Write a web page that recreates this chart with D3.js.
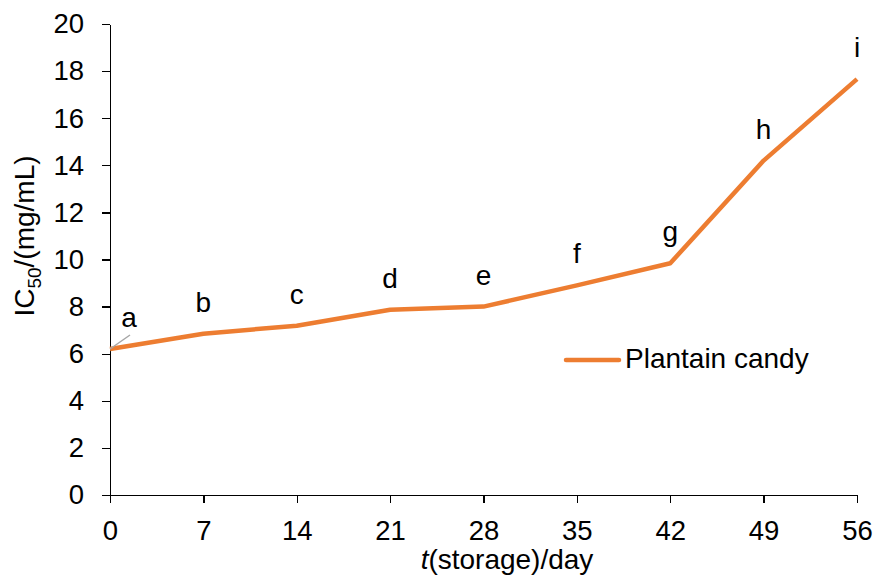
<!DOCTYPE html>
<html lang="en">
<head>
<meta charset="UTF-8"/>
<title>IC50 storage</title>
<script src="https://d3js.org/d3.v7.min.js"></script>
<style>
  body { margin: 0; background: #fff; }
  text { font-family: "Liberation Sans", Arial, sans-serif; fill: #000; }
  .axis path, .axis line { stroke: #000; stroke-width: 1.3px; shape-rendering: crispEdges; }
  .axis text { font-size: 27.5px; font-family: "Liberation Sans", Arial, sans-serif; }
</style>
</head>
<body>
<div id="chart"></div>
<script>
// data
var days = [0, 7, 14, 21, 28, 35, 42, 49, 56];
var ic50 = [6.2, 6.85, 7.19, 7.87, 8.0, 8.9, 9.84, 14.2, 17.66];
var letters = ["a", "b", "c", "d", "e", "f", "g", "h", "i"];
var yTicks = [0, 2, 4, 6, 8, 10, 12, 14, 16, 18, 20];

var width = 877, height = 580;
var margin = {top: 24, right: 20, bottom: 85, left: 110};

var svg = d3.select("#chart").append("svg")
    .attr("width", width)
    .attr("height", height);

var x = d3.scaleLinear().domain([0, 56]).range([margin.left, 857]);
var y = d3.scaleLinear().domain([0, 20]).range([height - margin.bottom, margin.top]);

// axes
svg.append("g")
    .attr("class", "axis")
    .attr("transform", "translate(0," + y(0) + ")")
    .call(d3.axisBottom(x).tickValues(days).tickSize(8).tickSizeOuter(0).tickPadding(17));

svg.append("g")
    .attr("class", "axis")
    .attr("transform", "translate(" + x(0) + ",0)")
    .call(d3.axisLeft(y).tickValues(yTicks).tickSize(8).tickSizeOuter(0).tickPadding(18));

// the line
var line = d3.line()
    .x(function(d, i) { return x(days[i]); })
    .y(function(d) { return y(d); });

svg.append("path")
    .datum(ic50)
    .attr("fill", "none")
    .attr("stroke", "#ED7D31")
    .attr("stroke-width", 4.5)
    .attr("stroke-linejoin", "round")
    .attr("d", line);

// leader line for label a
svg.append("line")
    .attr("x1", x(days[0])).attr("y1", y(ic50[0]))
    .attr("x2", x(days[0]) + 20).attr("y2", y(ic50[0]) - 14)
    .attr("stroke", "#a6a6a6").attr("stroke-width", 1.5);

// point letters
svg.selectAll(".lbl")
    .data(letters)
    .enter()
    .append("text")
    .attr("class", "lbl")
    .attr("x", function(d, i) { return i === 0 ? x(days[i]) + 19 : x(days[i]); })
    .attr("y", function(d, i) { return y(ic50[i]) - 22; })
    .attr("text-anchor", "middle")
    .style("font-size", "28px")
    .text(function(d) { return d; });

// legend
svg.append("line")
    .attr("x1", 566).attr("x2", 619)
    .attr("y1", 360).attr("y2", 360)
    .attr("stroke", "#ED7D31").attr("stroke-width", 4.5)
    .attr("stroke-linecap", "round");
svg.append("text")
    .attr("x", 625).attr("y", 368)
    .style("font-size", "28px")
    .text("Plantain candy");

// axis titles
var xt = svg.append("text")
    .attr("x", 507)
    .attr("y", 569)
    .attr("text-anchor", "middle")
    .style("font-size", "28px");
xt.append("tspan").style("font-style", "italic").text("t");
xt.append("tspan").text("(storage)/day");

var yt = svg.append("text")
    .attr("transform", "translate(34,236) rotate(-90)")
    .attr("text-anchor", "middle")
    .style("font-size", "28px");
yt.append("tspan").text("IC");
yt.append("tspan").attr("dy", 7).style("font-size", "19px").text("50");
yt.append("tspan").attr("dy", -7).text("/(mg/mL)");
</script>
</body>
</html>
